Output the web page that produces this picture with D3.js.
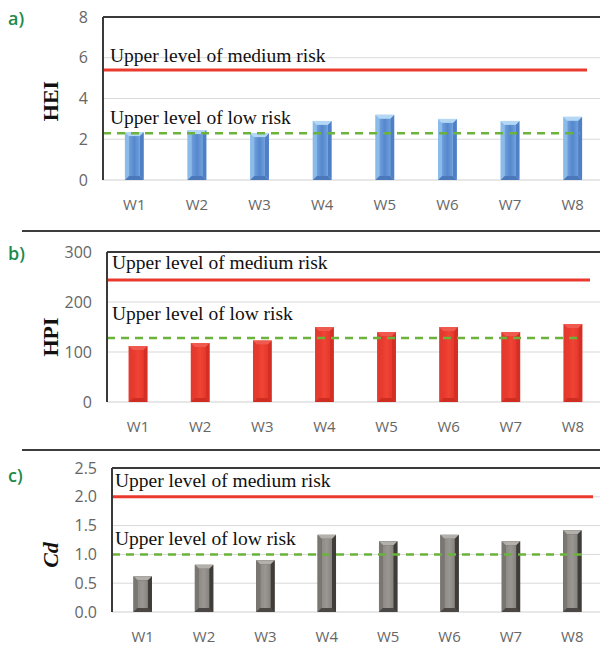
<!DOCTYPE html>
<html>
<head>
<meta charset="utf-8">
<script src="https://cdn.jsdelivr.net/npm/d3@7/dist/d3.min.js"></script>
<style>
  html, body { margin: 0; padding: 0; background: #fff; }
  svg { display: block; }
</style>
</head>
<body>
<svg id="chart" width="600" height="645"></svg>
<script>
// ---------- data ----------
const categories = ["W1", "W2", "W3", "W4", "W5", "W6", "W7", "W8"];
const heiValues = [2.35, 2.45, 2.3, 2.9, 3.2, 3.0, 2.9, 3.1];
const hpiValues = [112, 118, 123, 150, 140, 150, 140, 156];
const cdValues = [0.62, 0.82, 0.9, 1.34, 1.23, 1.34, 1.23, 1.42];
const heiTicks = [0, 2, 4, 6, 8];
const hpiTicks = [0, 100, 200, 300];
const cdTicks = [0, 0.5, 1.0, 1.5, 2.0, 2.5];
const heiLimits = { medium: 5.4, low: 2.3 };
const hpiLimits = { medium: 244, low: 128 };
const cdLimits = { medium: 2.0, low: 1.0 };
const panelLetters = ["a)", "b)", "c)"];
const axisTitles = ["HEI", "HPI", "Cd"];
const mediumText = "Upper level of medium risk";
const lowText = "Upper level of low risk";

// ---------- layout ----------
const svg = d3.select("#chart");
const defs = svg.append("defs");

function hGrad(id, stops) {
  const g = defs.append("linearGradient").attr("id", id)
    .attr("x1", "0%").attr("x2", "100%").attr("y1", "0%").attr("y2", "0%");
  stops.forEach(s => g.append("stop").attr("offset", s[0]).attr("stop-color", s[1]));
}
hGrad("blueFace", [["0%", "#6f9fdc"], ["50%", "#5587cc"], ["100%", "#6f9fdc"]]);
hGrad("redFace", [["0%", "#e8362b"], ["50%", "#ee4535"], ["100%", "#e8362b"]]);
hGrad("grayFace", [["0%", "#8e8a86"], ["50%", "#9a9692"], ["100%", "#86827e"]]);

const panels = [
  { values: heiValues, ticks: heiTicks, limits: heiLimits, max: 8, fmt: d3.format("d"),
    top: 17, base: 180, left: 103, right: 604, letterY: 19, titleY: 101, italic: false,
    medY: 62, lowY: 124, textX: 110, medEnd: 587, lowEnd: 580,
    style: { edge: "#a4cdf2", face: "url(#blueFace)", bevL: "#8bbbe9", bevR: "#4f7fc4", bevT: "#b3d7f5", bevB: "#4a78ba" } },
  { values: hpiValues, ticks: hpiTicks, limits: hpiLimits, max: 300, fmt: d3.format("d"),
    top: 252, base: 402, left: 107, right: 604, letterY: 254, titleY: 337, italic: false,
    medY: 269, lowY: 320, textX: 112, medEnd: 590, lowEnd: 583,
    style: { edge: "#ea4a3e", face: "url(#redFace)", bevL: "#e4392e", bevR: "#d52f25", bevT: "#f0594d", bevB: "#cf2c22" } },
  { values: cdValues, ticks: cdTicks, limits: cdLimits, max: 2.5, fmt: d3.format(".1f"),
    top: 468, base: 612, left: 112, right: 603, letterY: 476, titleY: 555, italic: true,
    medY: 487, lowY: 545, textX: 115, medEnd: 593, lowEnd: 585,
    style: { edge: "#55514d", face: "url(#grayFace)", bevL: "#7a7672", bevR: "#3f3c39", bevT: "#b3afab", bevB: "#4a4744" } }
];

// separators between panels
[231, 450].forEach(y => {
  svg.append("line").attr("x1", 22).attr("x2", 600).attr("y1", y).attr("y2", y)
    .attr("stroke", "#3d3d3d").attr("stroke-width", 2);
});

panels.forEach((p, pi) => {
  const g = svg.append("g");
  const y = d3.scaleLinear().domain([0, p.max]).range([p.base, p.top]);
  const x = d3.scaleBand().domain(categories).range([p.left, p.right])
    .paddingInner(0.7).paddingOuter(0.35);

  // gridlines
  g.selectAll(".grid").data(p.ticks.filter(t => t > 0 && t < p.max)).enter()
    .append("line")
    .attr("x1", p.left).attr("x2", 600)
    .attr("y1", d => y(d)).attr("y2", d => y(d))
    .attr("stroke", "#d9d9d9").attr("stroke-width", 1);
  // baseline
  g.append("line").attr("x1", p.left).attr("x2", 600)
    .attr("y1", y(0)).attr("y2", y(0)).attr("stroke", "#d0d0d0").attr("stroke-width", 1.2);

  // y axis via d3 axis (labels only)
  const yAxis = d3.axisLeft(y).tickValues(p.ticks).tickFormat(p.fmt).tickSize(0).tickPadding(15);
  const ya = g.append("g").attr("transform", `translate(${p.left},0)`).call(yAxis);
  ya.select(".domain").remove();
  ya.selectAll("text").attr("font-family", "'Open Sans', sans-serif").attr("font-size", 16)
    .attr("fill", "#666");

  // x axis labels
  const xAxis = d3.axisBottom(x).tickSize(0).tickPadding(19);
  const xa = g.append("g").attr("transform", `translate(0,${p.base})`).call(xAxis);
  xa.select(".domain").remove();
  xa.selectAll("text").attr("font-family", "'Open Sans', sans-serif").attr("font-size", 15)
    .attr("fill", "#666");

  // bars (bevelled)
  const s = p.style;
  const bars = g.selectAll(".bar").data(categories.map((c, i) => ({ c, v: p.values[i] }))).enter()
    .append("g");
  const bev = 4;
  bars.each(function(d) {
    const b = d3.select(this);
    const x0 = x(d.c), w = x.bandwidth(), x1 = x0 + w;
    const yt = y(d.v), yb = y(0);
    b.append("rect").attr("x", x0).attr("y", yt).attr("width", w).attr("height", yb - yt)
      .attr("fill", s.edge);
    b.append("polygon").attr("points", [[x0, yt], [x0 + bev, yt + bev], [x0 + bev, yb - bev], [x0, yb]].join(" "))
      .attr("fill", s.bevL);
    b.append("polygon").attr("points", [[x1, yt], [x1 - bev, yt + bev], [x1 - bev, yb - bev], [x1, yb]].join(" "))
      .attr("fill", s.bevR);
    b.append("polygon").attr("points", [[x0, yt], [x1, yt], [x1 - bev, yt + bev], [x0 + bev, yt + bev]].join(" "))
      .attr("fill", s.bevT);
    b.append("polygon").attr("points", [[x0, yb], [x1, yb], [x1 - bev, yb - bev], [x0 + bev, yb - bev]].join(" "))
      .attr("fill", s.bevB);
    b.append("rect").attr("x", x0 + bev).attr("y", yt + bev).attr("width", w - 2 * bev)
      .attr("height", Math.max(0, yb - yt - 2 * bev)).attr("fill", s.face);
  });

  // risk lines
  g.append("line").attr("x1", p.left).attr("x2", p.lowEnd)
    .attr("y1", y(p.limits.low)).attr("y2", y(p.limits.low))
    .attr("stroke", "#6cb33e").attr("stroke-width", 2.5).attr("stroke-dasharray", "8,6");
  g.append("line").attr("x1", p.left).attr("x2", p.medEnd)
    .attr("y1", y(p.limits.medium)).attr("y2", y(p.limits.medium))
    .attr("stroke", "#ea3a2e").attr("stroke-width", 3);

  // risk texts
  g.append("text").attr("x", p.textX).attr("y", p.medY).text(mediumText)
    .attr("font-family", "'Liberation Serif', 'Times New Roman', serif").attr("font-size", 19.5).attr("fill", "#111");
  g.append("text").attr("x", p.textX).attr("y", p.lowY).text(lowText)
    .attr("font-family", "'Liberation Serif', 'Times New Roman', serif").attr("font-size", 19.5).attr("fill", "#111");

  // frame: top and left lines
  g.append("line").attr("x1", p.left).attr("x2", 600).attr("y1", p.top).attr("y2", p.top)
    .attr("stroke", "#3a3a3a").attr("stroke-width", 2);
  g.append("line").attr("x1", p.left).attr("x2", p.left).attr("y1", p.top).attr("y2", p.base)
    .attr("stroke", "#3a3a3a").attr("stroke-width", 2);

  // panel letter
  g.append("text").attr("x", 8).attr("y", p.letterY).attr("dy", "0.35em").text(panelLetters[pi])
    .attr("font-family", "'Open Sans', sans-serif").attr("font-size", 18).attr("font-weight", 600)
    .attr("fill", "#1d8a4c");

  // y title
  g.append("text").attr("transform", `translate(50,${p.titleY}) rotate(-90)`)
    .attr("text-anchor", "middle").attr("dy", "0.35em").text(axisTitles[pi])
    .attr("font-family", "'Liberation Serif', 'Times New Roman', serif").attr("font-size", 22)
    .attr("font-weight", "bold").attr("font-style", p.italic ? "italic" : "normal").attr("fill", "#111");
});
</script>
</body>
</html>
